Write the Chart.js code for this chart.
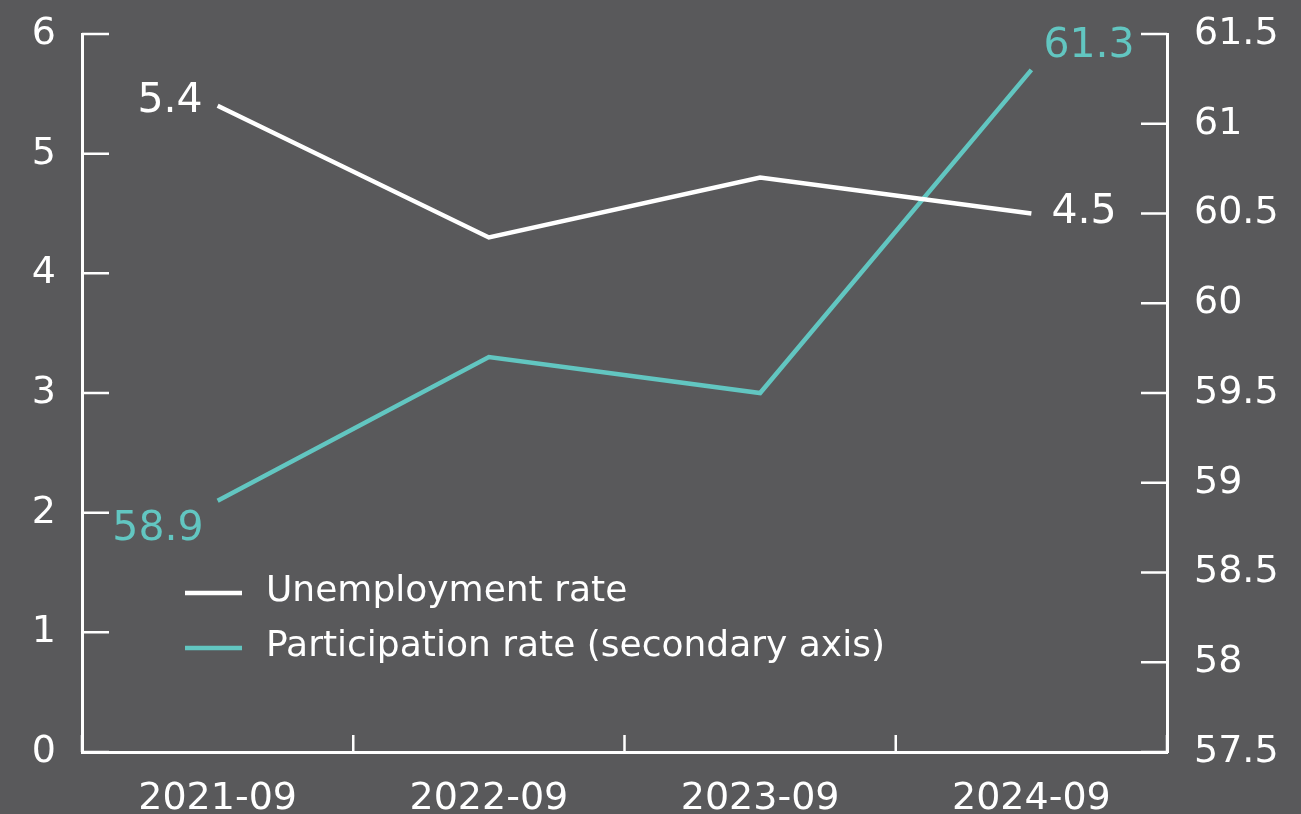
<!DOCTYPE html>
<html>
<head>
<meta charset="utf-8">
<script src="https://cdn.jsdelivr.net/npm/chart.js@4.4.1/dist/chart.umd.min.js"></script>
<style>
  html, body { margin: 0; padding: 0; background: #59595b; }
  canvas { display: block; }
</style>
</head>
<body>
<canvas id="labourChart" width="1301" height="814"></canvas>
<script>
"use strict";

const categories = ["2021-09", "2022-09", "2023-09", "2024-09"];
const unemploymentRate = [5.4, 4.3, 4.8, 4.5];
const participationRate = [58.9, 59.7, 59.5, 61.3];
const seriesNames = ["Unemployment rate", "Participation rate (secondary axis)"];

const WHITE = "#ffffff";
const TEAL = "#62c6c1";
const FONT = "'DejaVu Sans', sans-serif";

// short inward tick marks on every axis
const innerTicks = {
   id: "innerTicks",
   afterDraw(chart) {
      const ctx = chart.ctx;
      const area = chart.chartArea;
      const { x, y, y1 } = chart.scales;
      ctx.save();
      ctx.strokeStyle = WHITE;
      ctx.lineWidth = 2.5;
      ctx.beginPath();
      y.ticks.forEach((t) => {
         const py = y.getPixelForValue(t.value);
         ctx.moveTo(area.left, py);
         ctx.lineTo(area.left + 27, py);
      });
      y1.ticks.forEach((t) => {
         const py = y1.getPixelForValue(t.value);
         ctx.moveTo(area.right - 26, py);
         ctx.lineTo(area.right, py);
      });
      const step = x.getPixelForValue(1) - x.getPixelForValue(0);
      for (let i = 0; i <= categories.length; i++) {
         const px = x.getPixelForValue(i) - step / 2;
         ctx.moveTo(px, area.bottom);
         ctx.lineTo(px, area.bottom - 17);
      }
      ctx.stroke();
      ctx.restore();
   },
};

// first and last values written next to each line
const endLabels = {
   id: "endLabels",
   afterDatasetsDraw(chart) {
      const ctx = chart.ctx;
      ctx.save();
      ctx.font = "41px " + FONT;
      ctx.textBaseline = "middle";
      const put = (dsIndex, i, dx, dy, align) => {
         const ds = chart.data.datasets[dsIndex];
         const pt = chart.getDatasetMeta(dsIndex).data[i];
         ctx.fillStyle = ds.borderColor;
         ctx.textAlign = align;
         ctx.fillText(ds.data[i].toFixed(1), pt.x + dx, pt.y + dy);
      };
      const last = categories.length - 1;
      put(0, 0, -15, -4, "right");
      put(0, last, 20, -1, "left");
      put(1, 0, -14, 29, "right");
      put(1, last, 12, -24, "left");
      ctx.restore();
   },
};

// legend sitting inside the plot area
const innerLegend = {
   id: "innerLegend",
   afterDraw(chart) {
      const ctx = chart.ctx;
      ctx.save();
      ctx.font = "36px " + FONT;
      ctx.textBaseline = "middle";
      ctx.textAlign = "left";
      chart.data.datasets.forEach((ds, i) => {
         const ly = 593 + i * 55;
         ctx.strokeStyle = ds.borderColor;
         ctx.lineWidth = 4.5;
         ctx.beginPath();
         ctx.moveTo(185, ly);
         ctx.lineTo(242, ly);
         ctx.stroke();
         ctx.fillStyle = WHITE;
         ctx.fillText(ds.label, 266, ly - 1);
      });
      ctx.restore();
   },
};

const tickFont = { family: FONT, size: 38, lineHeight: 1 };

// fixed axis sizes, no extra room for overhanging labels
function fixSize(size) {
   return (scale) => {
      if (scale.isHorizontal()) scale.height = size;
      else scale.width = size;
      scale.paddingTop = 0;
      scale.paddingBottom = 0;
      scale.paddingLeft = 0;
      scale.paddingRight = 0;
   };
}

const ctx = document.getElementById("labourChart").getContext("2d");
const labourChart = new Chart(ctx, {
   type: "line",
   data: {
      labels: categories,
      datasets: [
         {
            label: seriesNames[0],
            data: unemploymentRate,
            borderColor: WHITE,
            borderWidth: 4.5,
            pointRadius: 0,
            tension: 0,
            yAxisID: "y",
         },
         {
            label: seriesNames[1],
            data: participationRate,
            borderColor: TEAL,
            borderWidth: 4.5,
            pointRadius: 0,
            tension: 0,
            yAxisID: "y1",
         },
      ],
   },
   options: {
      responsive: false,
      animation: false,
      layout: { padding: { top: 34, left: 0, right: 0, bottom: 0 } },
      plugins: {
         legend: { display: false },
         tooltip: { enabled: false },
      },
      scales: {
         x: {
            offset: true,
            grid: { offset: true, drawOnChartArea: false, drawTicks: false },
            border: { color: WHITE, width: 3 },
            ticks: { color: WHITE, font: tickFont, padding: 28, maxRotation: 0 },
            afterFit: fixSize(62),
         },
         y: {
            position: "left",
            min: 0,
            max: 6,
            grid: { drawOnChartArea: false, drawTicks: false },
            border: { color: WHITE, width: 3 },
            ticks: { stepSize: 1, color: WHITE, font: tickFont, padding: 26 },
            afterFit: fixSize(82),
         },
         y1: {
            position: "right",
            min: 57.5,
            max: 61.5,
            grid: { drawOnChartArea: false, drawTicks: false },
            border: { color: WHITE, width: 3 },
            ticks: {
               stepSize: 0.5,
               color: WHITE,
               font: tickFont,
               padding: 27,
               callback: (value) => String(Number(value)),
            },
            afterFit: fixSize(134),
         },
      },
   },
   plugins: [innerTicks, endLabels, innerLegend],
});
</script>
</body>
</html>
